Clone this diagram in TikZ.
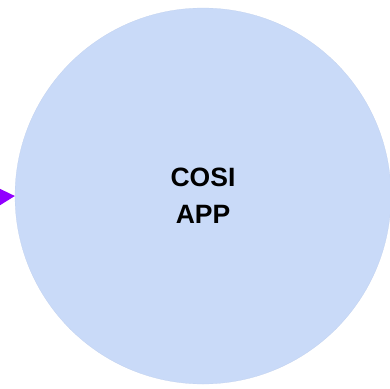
\documentclass[tikz,border=0pt]{standalone}
\usepackage{fontspec}
\setmainfont{Liberation Sans}
\usetikzlibrary{arrows.meta}

\definecolor{appblue}{HTML}{C9DAF8}
\definecolor{linkpurple}{HTML}{9100FF}

\begin{document}
\begin{tikzpicture}[x=1pt, y=1pt,
appnode/.style={circle, fill=appblue, draw=appblue!95!black, very thin, minimum size=376pt, inner sep=0pt,
  font=\fontsize{26.5}{37}\selectfont\bfseries, align=center},
linkarrow/.style={-{Triangle[length=16pt,width=17pt]}, line width=2pt, draw=linkpurple, fill=linkpurple},
]
\useasboundingbox (0,0) rectangle (390,-388);
%Nodes
\node[appnode]      (App)      at (203,-196)     {COSI\\APP};
\coordinate         (src)      at (-4,-197);

%Lines
\draw[linkarrow] (src) -- (App.west);
\end{tikzpicture}
\end{document}
